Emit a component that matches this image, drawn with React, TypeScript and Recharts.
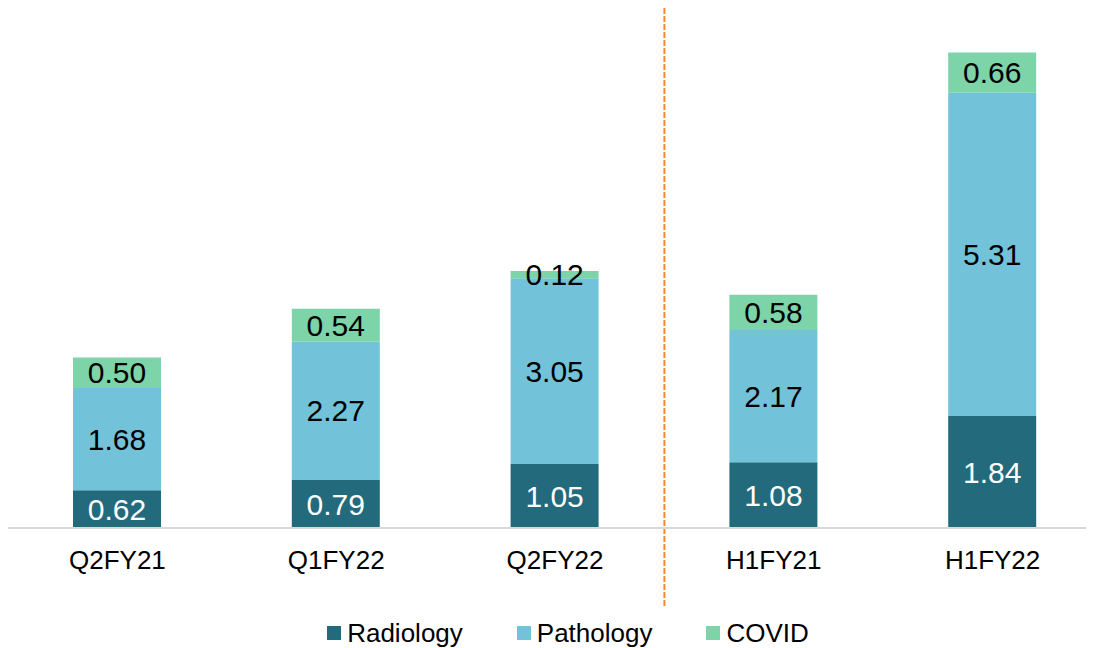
import { BarChart, Bar, XAxis, YAxis, LabelList, Legend, ReferenceLine } from "recharts";

const periods = ["Q2FY21", "Q1FY22", "Q2FY22", "H1FY21", "H1FY22"];
const radiology = [0.62, 0.79, 1.05, 1.08, 1.84];
const pathology = [1.68, 2.27, 3.05, 2.17, 5.31];
const covid = [0.5, 0.54, 0.12, 0.58, 0.66];

const RADIOLOGY_COLOR = "#236A7D";
const PATHOLOGY_COLOR = "#72C2D9";
const COVID_COLOR = "#7DD4A9";
const FONT = "Arial, 'Liberation Sans', sans-serif";

const legendItems = [
  { name: "Radiology", color: RADIOLOGY_COLOR },
  { name: "Pathology", color: PATHOLOGY_COLOR },
  { name: "COVID", color: COVID_COLOR },
];

const data = periods.map((p, i) => ({
  period: p,
  radiology: radiology[i],
  pathology: pathology[i],
  covid: covid[i],
}));

const fmt = (v: number) => v.toFixed(2);

const LegendContent = () => (
  <div
    style={{
      display: "flex",
      justifyContent: "center",
      paddingTop: 30,
      paddingLeft: 26,
      fontFamily: FONT,
      fontSize: 26,
      lineHeight: "30px",
      color: "#000",
    }}
  >
    {legendItems.map((it, i) => (
      <div key={it.name} style={{ display: "flex", alignItems: "center", marginLeft: i === 0 ? 0 : 54 }}>
        <span style={{ width: 14, height: 14, background: it.color, marginRight: 6, display: "inline-block" }} />
        <span>{it.name}</span>
      </div>
    ))}
  </div>
);

const DividerLine = (props: any) => {
  const { x1, y1, y2 } = props;
  const top = Math.min(y1, y2);
  const bottom = Math.max(y1, y2);
  return (
    <line x1={x1} x2={x1} y1={top} y2={bottom + 79} stroke="#F08A2C" strokeWidth={2} strokeDasharray="6 2" />
  );
};

export default function App() {
  return (
    <BarChart
      width={1094}
      height={640}
      data={data}
      margin={{ top: 0, right: 0, left: 0, bottom: 0 }}
      barCategoryGap={0}
    >
      <XAxis
        dataKey="period"
        height={60}
        tickLine={false}
        tickSize={0}
        tickMargin={23}
        axisLine={{ stroke: "#D9D9D9", strokeWidth: 2 }}
        tick={{ fill: "#000", fontSize: 26, fontFamily: FONT }}
        interval={0}
      />
      <YAxis hide domain={[0, 8.54]} />
      <ReferenceLine x="H1FY21" position="start" shape={DividerLine} />
      <Legend verticalAlign="bottom" height={60} content={<LegendContent />} />
      <Bar dataKey="radiology" name="Radiology" stackId="a" fill={RADIOLOGY_COLOR} barSize={88} isAnimationActive={false}>
        <LabelList dataKey="radiology" position="center" formatter={fmt} fill="#fff" fontSize={30} fontFamily={FONT} />
      </Bar>
      <Bar dataKey="pathology" name="Pathology" stackId="a" fill={PATHOLOGY_COLOR} barSize={88} isAnimationActive={false}>
        <LabelList dataKey="pathology" position="center" formatter={fmt} fill="#000" fontSize={30} fontFamily={FONT} />
      </Bar>
      <Bar dataKey="covid" name="COVID" stackId="a" fill={COVID_COLOR} barSize={88} isAnimationActive={false}>
        <LabelList dataKey="covid" position="center" formatter={fmt} fill="#000" fontSize={30} fontFamily={FONT} />
      </Bar>
    </BarChart>
  );
}
